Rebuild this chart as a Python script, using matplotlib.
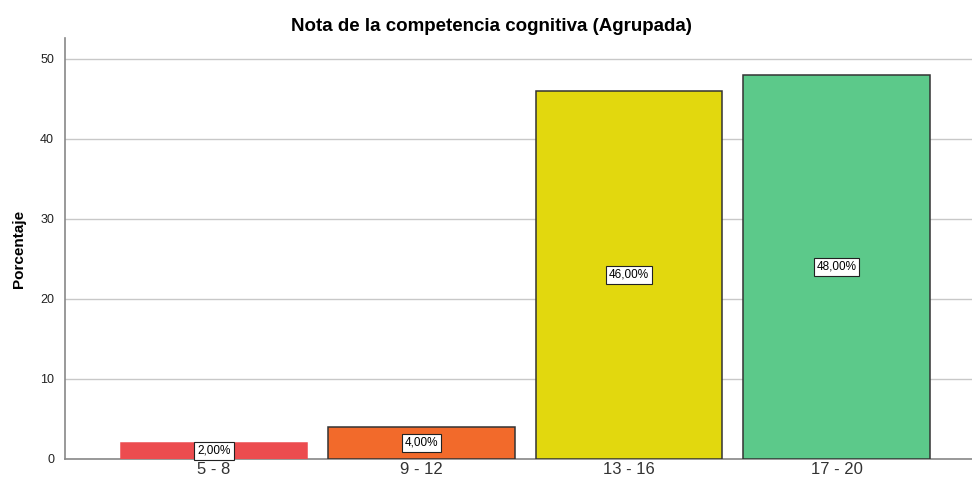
import matplotlib.pyplot as plt

# Data
categorias = ["5 - 8", "9 - 12", "13 - 16", "17 - 20"]
porcentajes = [2.0, 4.0, 46.0, 48.0]
colores = ["#ec4c4f", "#f26a2b", "#e2d80e", "#5cc98a"]
bordes = ["#ec4c4f", "#333333", "#333333", "#333333"]
etiquetas = ["2,00%", "4,00%", "46,00%", "48,00%"]

plt.rcParams['font.family'] = ['Liberation Sans', 'DejaVu Sans']

fig = plt.figure(figsize=(9.72, 4.82), dpi=100)
ax = fig.add_axes([0.067, 0.048, 0.933, 0.873])

x = list(range(len(categorias)))
ax.bar(x, porcentajes, width=0.9, color=colores, edgecolor=bordes, linewidth=1.1, zorder=3)

for xi, v, lab in zip(x, porcentajes, etiquetas):
    ax.text(xi, v / 2, lab, ha='center', va='center', fontsize=8.5, color='black', zorder=4,
            bbox=dict(facecolor='white', edgecolor='#222222', linewidth=0.8, boxstyle='square,pad=0.25'))

ax.set_xlim(-0.718, 3.653)
ax.set_ylim(0, 52.6)
ax.set_yticks([0, 10, 20, 30, 40, 50])
ax.yaxis.grid(True, color='#c8c8c8', linewidth=1.0, zorder=0)
ax.set_axisbelow(True)

ax.set_xticks(x)
ax.set_xticklabels(categorias, fontsize=12, color='#333333')
ax.tick_params(axis='x', length=0, pad=2)
ax.tick_params(axis='y', length=0, labelsize=9, pad=8, labelcolor='#222222')

for side in ['top', 'right']:
    ax.spines[side].set_visible(False)
ax.spines['left'].set_color('#888888')
ax.spines['left'].set_linewidth(1.2)
ax.spines['bottom'].set_color('#888888')
ax.spines['bottom'].set_linewidth(1.2)

ax.set_ylabel("Porcentaje", fontsize=11, fontweight='bold', labelpad=10)
ax.set_title("Nota de la competencia cognitiva (Agrupada)", fontsize=13.5, fontweight='bold', pad=5, x=0.47)

plt.savefig("out.png", dpi=100)
